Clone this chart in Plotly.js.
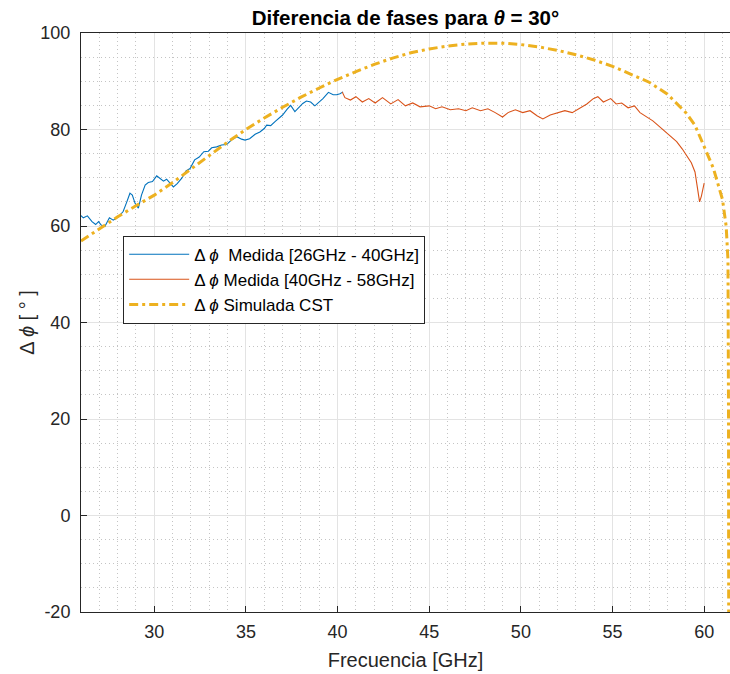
<!DOCTYPE html>
<html>
<head>
<meta charset="utf-8">
<script src="https://cdn.plot.ly/plotly-3.0.1.min.js"></script>
<style>html,body{margin:0;padding:0;background:#fff;}</style>
</head>
<body>
<div id="chart" style="width:730px;height:674px;"></div>
<script>
// Measured 26-40 GHz (blue)
const fBlue = [25.95,26.13,26.35,26.6,26.8,26.96,27.1,27.3,27.55,27.76,28.04,28.3,28.5,28.67,28.8,28.95,29.13,29.3,29.5,29.67,29.9,30.13,30.3,30.5,30.67,30.85,31.04,31.25,31.5,31.73,31.95,32.2,32.45,32.7,32.95,33.13,33.4,33.67,33.95,34.2,34.5,34.76,34.95,35.2,35.5,35.76,36.0,36.13,36.35,36.6,36.8,37.0,37.25,37.44,37.67,37.85,38.1,38.3,38.53,38.76,39.0,39.2,39.5,39.76,39.95,40.13,40.3];
const vBlue = [62.3,61.7,62.1,60.9,60.3,60.9,60.2,59.9,61.7,61.2,61.9,63.0,65.0,66.8,66.4,64.7,63.7,66.4,68.5,69.0,69.2,70.4,69.9,69.3,69.7,68.8,68.1,68.8,69.9,71.4,71.9,73.7,74.3,75.4,75.5,76.2,76.4,76.8,76.9,77.8,78.5,78.0,77.8,78.1,79.0,79.5,80.2,80.9,80.8,81.7,82.4,83.0,84.2,85.0,83.7,84.5,85.4,85.9,85.7,84.9,85.7,86.4,87.7,87.2,87.2,87.4,87.8];

// Measured 40-58 GHz (red)
const fRed = [40.25,40.4,40.7,41.0,41.35,41.7,42.05,42.45,42.9,43.3,43.7,44.1,44.5,45.0,45.35,45.7,46.15,46.6,47.0,47.35,47.8,48.2,48.6,49.0,49.3,49.7,50.1,50.5,50.9,51.2,51.6,52.0,52.4,52.8,53.25,53.6,53.95,54.2,54.5,54.9,55.2,55.5,55.85,56.2,56.5,56.85,57.2,57.5,57.85,58.15,58.5,58.8,59.05,59.3,59.5,59.65,59.75,59.85,60.0];
const vRed = [87.8,86.6,86.1,86.8,85.7,86.4,85.5,86.6,85.3,86.2,84.9,85.5,84.7,84.9,84.3,84.7,84.1,84.3,83.9,84.5,83.9,84.3,83.5,82.6,83.5,84.1,83.5,83.9,82.8,82.2,83.0,83.5,83.9,83.5,84.5,85.3,86.4,86.8,85.7,86.4,85.3,85.5,84.5,84.9,83.5,82.6,81.8,80.8,79.7,78.7,77.5,76.0,74.4,73.1,71.2,67.5,65.0,66.2,68.9];

// Simulated CST (yellow)
const fCst = [26,27,28,29,30,31,32,33,34,35,36,37,38,39,40,41,42,43,44,45,46,47,48,49,50,51,52,53,54,55,56,57,58,59,59.5,60,60.5,61,61.2,61.3,61.32,61.33,61.34];
const vCst = [56.9,59.4,61.9,64.2,66.4,69.0,71.8,74.6,77.4,80.0,82.4,84.6,86.7,88.6,90.4,92.0,93.5,94.8,95.9,96.7,97.3,97.7,97.9,97.9,97.6,97.1,96.4,95.5,94.4,93.1,91.5,89.8,87.3,83.5,80.9,76.5,72.0,65.5,60.0,53.0,40.0,20.0,-25.0];

const names = ['\u0394 <i>\u03D5</i>  Medida [26GHz - 40GHz]', '\u0394 <i>\u03D5</i> Medida [40GHz - 58GHz]', '\u0394 <i>\u03D5</i> Simulada CST'];
const xTicks = [30,35,40,45,50,55,60];
const yTicks = [-20,0,20,40,60,80,100];

const FONT = 'Liberation Sans, Arial, Helvetica, sans-serif';
const data = [
  {x: fBlue, y: vBlue, name: names[0], mode: 'lines', line: {color: '#0072BD', width: 1.1}},
  {x: fRed, y: vRed, name: names[1], mode: 'lines', line: {color: '#D95319', width: 1.1}},
  {x: fCst, y: vCst, name: names[2], mode: 'lines', line: {color: '#EDB120', width: 3, dash: '9px,4px,3px,4px'}}
];

const axisCommon = {
  showline: true, linecolor: '#262626', linewidth: 1,
  ticks: 'inside', ticklen: 6, tickcolor: '#262626', tickwidth: 1,
  showgrid: true, gridcolor: '#e3e3e3', gridwidth: 1,
  zeroline: false,
  tickfont: {family: FONT, size: 18, color: '#262626'}
};

const layout = {
  width: 730, height: 674,
  margin: {l: 81, r: 0, t: 33, b: 62},
  paper_bgcolor: '#ffffff', plot_bgcolor: '#ffffff',
  font: {family: FONT, color: '#262626'},
  title: {text: '<b>Diferencia de fases para <i>\u03B8</i> = 30\u00B0</b>', font: {family: FONT, size: 20.5, color: '#000000'},
          xref: 'paper', x: 0.5, xanchor: 'center', yref: 'container', y: 0.973, yanchor: 'middle'},
  xaxis: Object.assign({}, axisCommon, {
    range: [26, 61.41], tickvals: xTicks, ticktext: xTicks.map(String), mirror: true,
    ticklabelstandoff: 3,
    minor: {dtick: 1, tick0: 26, showgrid: true, gridcolor: '#c4c4c4', griddash: '1px,3px', gridwidth: 1, ticks: ''},
    title: {text: 'Frecuencia [GHz]', font: {family: FONT, size: 20, color: '#262626'}, standoff: 12}
  }),
  yaxis: Object.assign({}, axisCommon, {
    range: [-20, 100], tickvals: yTicks, ticktext: yTicks.map(String), mirror: false,
    ticklabelstandoff: 6,
    minor: {dtick: 5, tick0: 0, showgrid: true, gridcolor: '#c4c4c4', griddash: '1px,3px', gridwidth: 1, ticks: ''},
    title: {text: '\u0394 <i>\u03D5</i> [ \u00B0 ]', font: {family: FONT, size: 20, color: '#262626'}, standoff: 0}
  }),
  showlegend: true,
  legend: {x: 0.065, y: 0.65, xanchor: 'left', yanchor: 'top', bgcolor: '#ffffff', bordercolor: '#262626', borderwidth: 1,
           font: {family: FONT, size: 17, color: '#000000'}, itemwidth: 60, tracegroupgap: 0}
};

Plotly.newPlot('chart', data, layout, {displayModeBar: false, staticPlot: true});
</script>
</body>
</html>
